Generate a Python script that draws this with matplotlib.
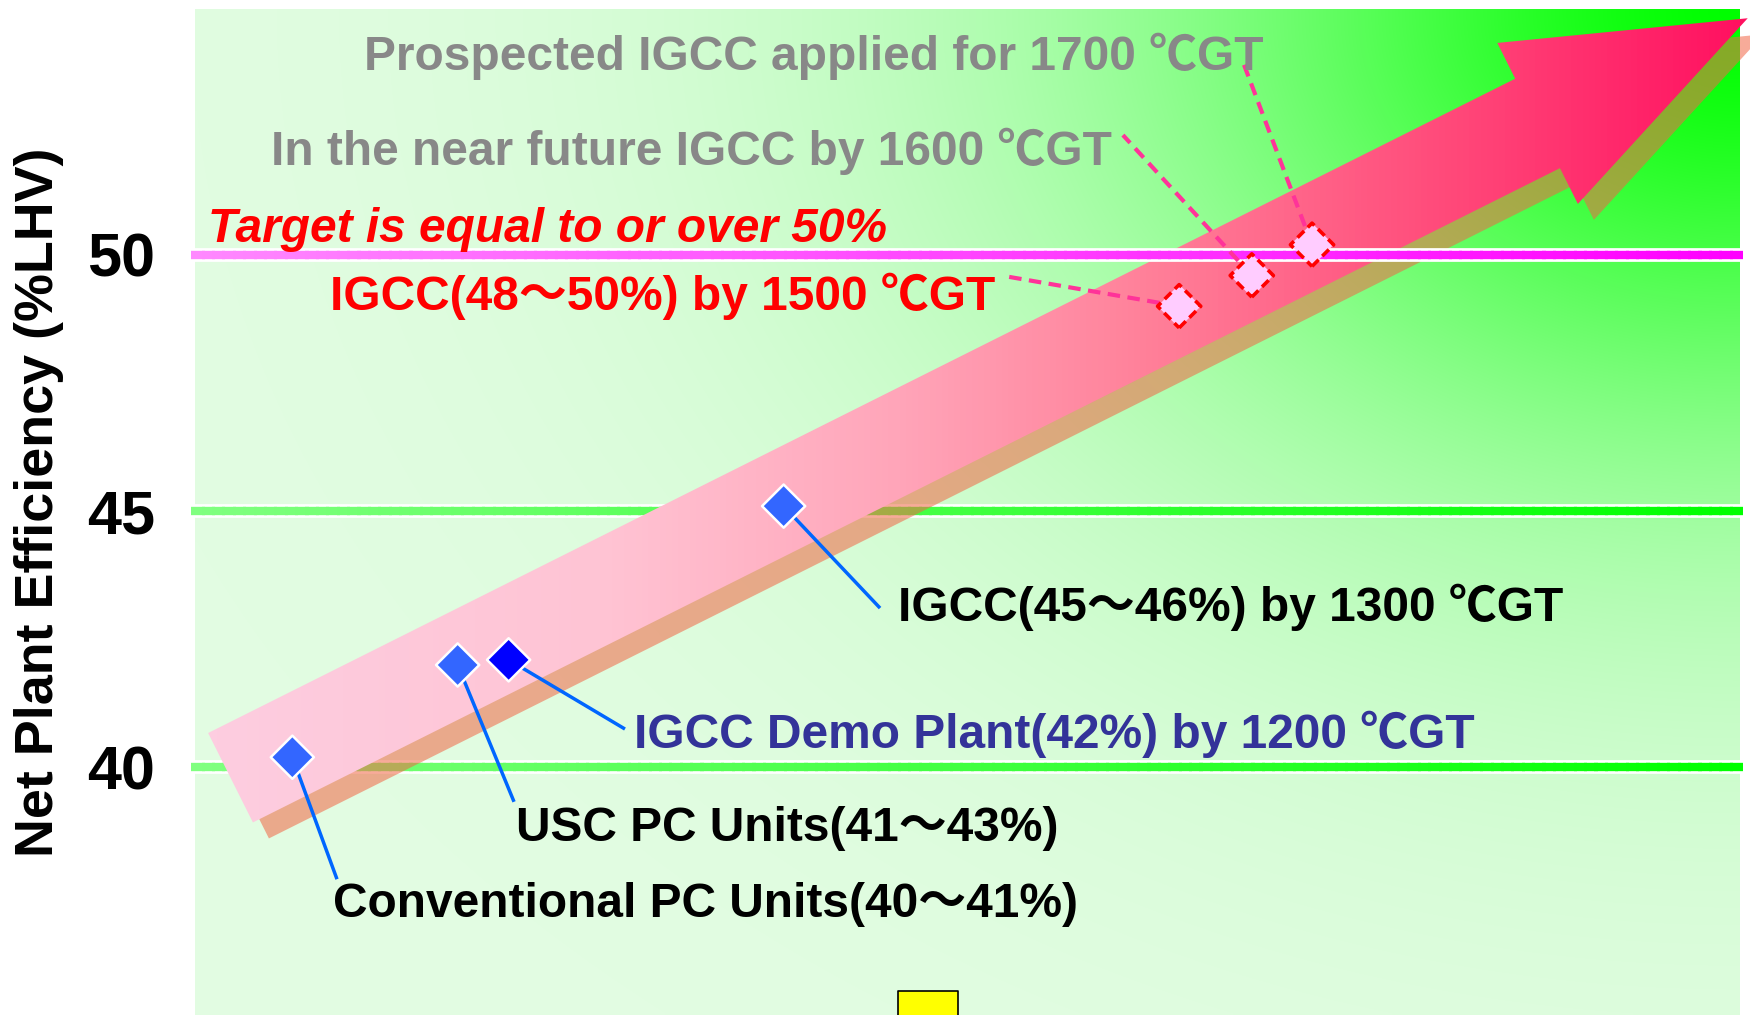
import numpy as np
import matplotlib.pyplot as plt
import matplotlib.transforms as mtransforms
from matplotlib.colors import LinearSegmentedColormap, to_rgb
from matplotlib.collections import LineCollection
from matplotlib.patches import Polygon

# values; x is only the position along the trend (no scale shown)
plant_x = [6.3, 17.0, 20.3, 38.1, 63.7, 68.4, 72.3]
plant_eff = [40.2, 42.0, 42.1, 45.1, 49.0, 49.6, 50.2]
plant_text = [
    "Conventional PC Units(40～41%)",
    "USC PC Units(41～43%)",
    "IGCC Demo Plant(42%) by 1200 ℃GT",
    "IGCC(45～46%) by 1300 ℃GT",
    "IGCC(48～50%) by 1500 ℃GT",
    "In the near future IGCC by 1600 ℃GT",
    "Prospected IGCC applied for 1700 ℃GT",
]
is_future = [False, False, False, False, True, True, True]

ytick_vals = [40, 45, 50]
target_eff = 50
target_text = "Target is equal to or over 50%"
ylabel = "Net Plant Efficiency (%LHV)"
trend_start = (2.3, 39.8)
trend_end = (100.5, 54.62)

# layout: where labels sit and where their leader lines end
text_xy = [(8.93, 37.08), (20.78, 38.57), (28.41, 40.38), (45.5, 42.86),
           (8.74, 48.93), (4.92, 51.76), (10.94, 53.61)]
leader_end = [(9.19, 37.82), (20.65, 39.33), (27.83, 40.75), (44.34, 43.11),
              (52.36, 49.59), (60.06, 52.34), (67.9, 53.71)]
text_color = ["black", "black", "#333399", "black", "red", "#888888", "#888888"]
marker_color = ["#3366ff", "#3366ff", "#0000ff", "#3366ff", "#ffccff", "#ffccff", "#ffccff"]
target_xy = (0.84, 50.25)
yellow_box_xy = (47.47, 35.06)

plt.rcParams["font.family"] = ["Liberation Sans", "Noto Sans CJK JP"]
plt.rcParams["font.weight"] = "bold"

fig = plt.figure(figsize=(17.5, 10.15), dpi=100)
ax = fig.add_axes([195 / 1750, 0.0, 1545 / 1750, 1006 / 1015])
ylim = (35.17, 54.80)
ax.set_xlim(0, 100)
ax.set_ylim(*ylim)

# green background, brightest in the top right corner
W, H = ax.bbox.width, ax.bbox.height
FX, FY = np.meshgrid(np.linspace(0, 1, 500), np.linspace(0, 1, 300))
d = np.hypot((1 - FX) * W / 1.3, (1 - FY) * H)
t = np.exp(-(d / 450) ** 1.6)[..., None]
bg = np.array([0.89, 0.99, 0.89]) * (1 - t) + np.array([0.0, 1.0, 0.0]) * t
ax.imshow(bg, extent=[0, 100, *ylim], origin="lower", aspect="auto",
          interpolation="bilinear", zorder=0)


def level_line(y, c0, c1, z):
    xs = np.linspace(-0.25, 100, 150)
    ax.plot([xs[0], xs[-1]], [y, y], color="white", lw=9.9,
            solid_capstyle="butt", zorder=z, clip_on=False)
    segs = [[(xs[i], y), (xs[i + 1] + 0.2, y)] for i in range(len(xs) - 1)]
    a, b = np.array(to_rgb(c0)), np.array(to_rgb(c1))
    f = np.linspace(0, 1, len(segs))[:, None]
    lc = LineCollection(segs, colors=a * (1 - f) + b * f, linewidths=6,
                        capstyle="butt", zorder=z + 0.1, clip_on=False)
    ax.add_collection(lc)


for v in ytick_vals:
    if v == target_eff:
        level_line(v, "#ff88ff", "#ff00ff", 4)
    else:
        level_line(v, "#80ff80", "#00ff00", 1)

# trend arrow built in pixel space so it keeps its shape
p0 = ax.transData.transform(trend_start)
p1 = ax.transData.transform(trend_end)
u = (p1 - p0) / np.hypot(*(p1 - p0))
n = np.array([-u[1], u[0]])
k = fig.dpi / 100
shaft, head_w, head_len = 50 * k, 90 * k, 235 * k
j = p1 - u * head_len
pts = np.array([p0 + n * shaft, j + n * shaft, j + n * head_w, p1,
                j - n * head_w, j - n * shaft, p0 - n * shaft])
arrow_xy = ax.transData.inverted().transform(pts)

shift = mtransforms.ScaledTranslation(0.16, -0.16, fig.dpi_scale_trans)
shadow = Polygon(arrow_xy, closed=True, fc=(0.945, 0.40, 0.27), ec="none",
                 alpha=0.55, zorder=2, transform=ax.transData + shift, clip_on=False)
ax.add_patch(shadow)

arrow = Polygon(arrow_xy, closed=True, fc="none", ec="none", zorder=3)
ax.add_patch(arrow)
arrow_cmap = LinearSegmentedColormap.from_list("arrow", [
    (0.0, (253 / 255, 205 / 255, 224 / 255)),
    (0.2545, (1.0, 196 / 255, 212 / 255)),
    (0.4494, (1.0, 165 / 255, 185 / 255)),
    (0.6117, (1.0, 128 / 255, 153 / 255)),
    (0.8065, (1.0, 74 / 255, 122 / 255)),
    (1.0, (1.0, 16 / 255, 96 / 255)),
])
grad = ax.imshow(np.linspace(0, 1, 256)[None, :], cmap=arrow_cmap, aspect="auto",
                 extent=[arrow_xy[:, 0].min(), arrow_xy[:, 0].max(), *ylim],
                 interpolation="bilinear", zorder=3)
grad.set_clip_path(arrow)
grad.set_clip_box(fig.bbox)

# leader lines
for i in range(len(plant_x)):
    if is_future[i]:
        style = dict(color="#ff3399", lw=3.0, ls=(0, (3.0, 1.8)))
    else:
        style = dict(color="#0066ff", lw=2.5)
    ax.plot([plant_x[i], leader_end[i][0]], [plant_eff[i], leader_end[i][1]],
            zorder=5, solid_capstyle="butt", dash_capstyle="butt", **style)

# plant markers
past = [i for i in range(len(plant_x)) if not is_future[i]]
fut = [i for i in range(len(plant_x)) if is_future[i]]
ax.scatter([plant_x[i] for i in past], [plant_eff[i] for i in past], marker="D",
           s=22 ** 2, c=[marker_color[i] for i in past], edgecolors="white",
           linewidths=1.8, zorder=6)
ax.scatter([plant_x[i] for i in fut], [plant_eff[i] for i in fut], marker="D",
           s=22 ** 2, c=[marker_color[i] for i in fut], edgecolors="red",
           linewidths=2.6, linestyles=[(0, (2.6, 1.4))], zorder=6)

ax.scatter([yellow_box_xy[0]], [yellow_box_xy[1]], marker="s", s=42.5 ** 2,
           c="yellow", edgecolors="black", linewidths=1.2, zorder=6)

for i in range(len(plant_x)):
    ax.text(*text_xy[i], plant_text[i], color=text_color[i], fontsize=34.5,
            fontweight="bold", ha="left", va="baseline", zorder=7)
ax.text(*target_xy, target_text, color="red", fontsize=34.5, fontweight="bold",
        style="italic", ha="left", va="baseline", zorder=7)

ax.set_yticks(ytick_vals)
ax.set_yticklabels([str(v) for v in ytick_vals], fontsize=44, fontweight="bold")
ax.tick_params(axis="y", length=0, pad=28.8)
ax.set_xticks([])
for s in ax.spines.values():
    s.set_visible(False)
ax.set_ylabel(ylabel, fontsize=38.8, fontweight="bold")
ax.yaxis.set_label_coords(-0.085, 0.51)

fig.savefig("out.png", dpi=100)
